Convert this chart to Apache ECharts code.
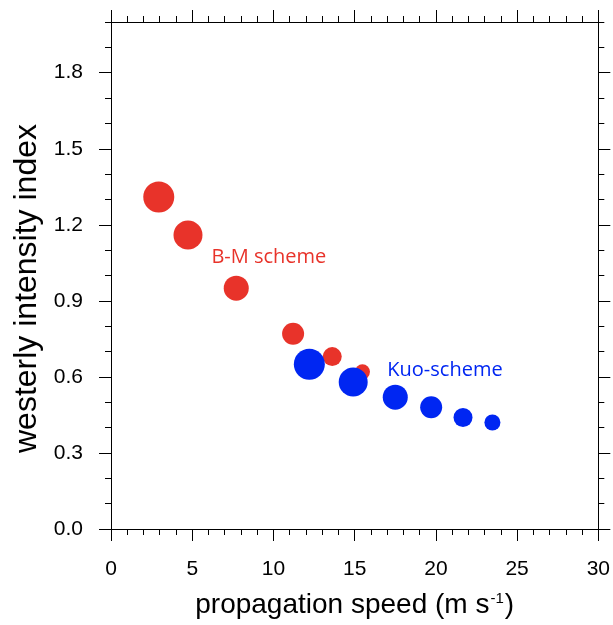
<!DOCTYPE html>
<html><head><meta charset="utf-8">
<script src="https://cdn.jsdelivr.net/npm/echarts@6/dist/echarts.min.js"></script>
<style>html,body{margin:0;padding:0;background:#fff}#c{width:613px;height:625px}</style>
</head><body><div id="c"></div>
<script>
// ---- data ----
const bmSpeed   = [2.94, 4.74, 7.71, 11.21, 13.62, 15.48];
const bmIndex   = [1.31, 1.16, 0.95, 0.77, 0.68, 0.62];
const kuoSpeed  = [12.21, 14.91, 17.50, 19.71, 21.67, 23.48];
const kuoIndex  = [0.65, 0.58, 0.52, 0.48, 0.44, 0.42];
const xTickValues = [0, 5, 10, 15, 20, 25, 30];
const yTickValues = [0, 0.3, 0.6, 0.9, 1.2, 1.5, 1.8];
const bmLabel  = {text: 'B-M scheme', at: [6.18, 1.073]};
const kuoLabel = {text: 'Kuo-scheme', at: [17.01, 0.626]};

// ---- styles ----
const RED = '#E8332A', BLUE = '#0026F2';
const bmDiam  = [31, 29, 25, 22, 19, 15];
const kuoDiam = [31, 29, 25, 22, 19, 16];
const AX = '#000';
const FONT = 'Liberation Sans';

const chart = echarts.init(document.getElementById('c'), null, {renderer: 'canvas'});

function xAxisDef(pos, major, showLabel) {
  return {
    type: 'value', position: pos, min: 0, max: 30,
    interval: major ? 5 : 1,
    axisLine: {show: major, onZero: false, lineStyle: {color: AX, width: 1}},
    axisTick: {show: true, inside: false, length: major ? 12 : 6, lineStyle: {color: AX, width: 1},
      customValues: major ? xTickValues : undefined},
    axisLabel: {show: showLabel, customValues: showLabel ? xTickValues : undefined,
      color: '#000', fontFamily: FONT, fontSize: 21, margin: 30},
    splitLine: {show: false}
  };
}
function yAxisDef(pos, major, showLabel) {
  return {
    type: 'value', position: pos, min: 0, max: 2.0,
    interval: 0.1,
    axisLine: {show: major, onZero: false, lineStyle: {color: AX, width: 1}},
    axisTick: {show: true, inside: false, length: major ? 12 : 6, lineStyle: {color: AX, width: 1},
      customValues: major ? yTickValues : undefined},
    axisLabel: {show: showLabel, customValues: showLabel ? yTickValues : undefined,
      formatter: v => v.toFixed(1),
      color: '#000', fontFamily: FONT, fontSize: 21, margin: 28},
    splitLine: {show: false}
  };
}

const xMain = xAxisDef('bottom', true, true);
xMain.name = '{a|propagation speed (m s}{s|-1}{a|)}';
xMain.nameLocation = 'middle';
xMain.nameGap = 62;
xMain.nameTextStyle = {rich: {
  a: {fontFamily: FONT, fontSize: 28, color: '#000'},
  s: {fontFamily: FONT, fontSize: 15, color: '#000', verticalAlign: 'top', padding: [0, 1, 0, 1]}
}};
const yMain = yAxisDef('left', true, true);
yMain.name = 'westerly intensity index';
yMain.nameLocation = 'middle';
yMain.nameGap = 67;
yMain.nameTextStyle = {fontFamily: FONT, fontSize: 32, color: '#000', padding: [0, 26, 0, 0]};

const option = {
  animation: false,
  backgroundColor: '#fff',
  grid: {left: 111, right: 13, top: 22, bottom: 96, containLabel: false},
  xAxis: [xMain, xAxisDef('bottom', false, false), xAxisDef('top', true, false), xAxisDef('top', false, false)],
  yAxis: [yMain, yAxisDef('left', false, false), yAxisDef('right', true, false), yAxisDef('right', false, false)],
  series: [
    {type: 'scatter', name: 'B-M', xAxisIndex: 0, yAxisIndex: 0,
     data: bmSpeed.map((x, i) => [x, bmIndex[i]]),
     symbol: 'circle', symbolSize: (v, p) => bmDiam[p.dataIndex],
     itemStyle: {color: RED, opacity: 1}, z: 2},
    {type: 'scatter', name: 'Kuo', xAxisIndex: 0, yAxisIndex: 0,
     data: kuoSpeed.map((x, i) => [x, kuoIndex[i]]),
     symbol: 'circle', symbolSize: (v, p) => kuoDiam[p.dataIndex],
     itemStyle: {color: BLUE, opacity: 1}, z: 3}
  ]
};
chart.setOption(option);

function annot(lbl, color) {
  const p = chart.convertToPixel({xAxisIndex: 0, yAxisIndex: 0}, lbl.at);
  return {type: 'text', x: p[0], y: p[1], z: 10,
    style: {text: lbl.text, fill: color, font: '20px "Open Sans"', textAlign: 'left', textVerticalAlign: 'middle'}};
}
chart.setOption({graphic: [annot(bmLabel, RED), annot(kuoLabel, BLUE)]});
</script>
</body></html>
